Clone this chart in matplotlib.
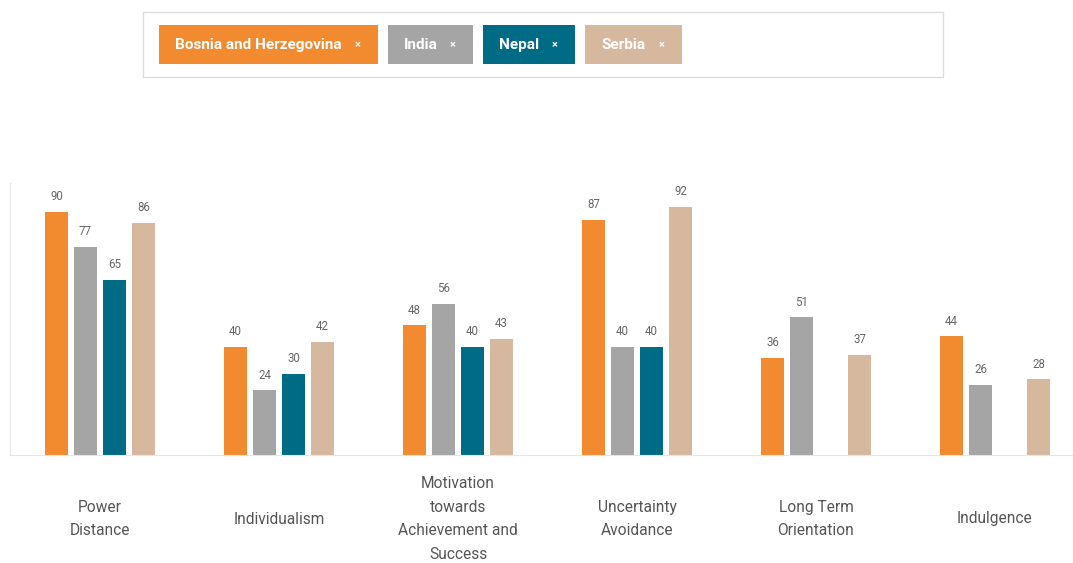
from matplotlib import pyplot as plt
from matplotlib.patches import Rectangle
import numpy as np

plt.rcParams['font.family'] = ['Roboto', 'DejaVu Sans']

categories = ["Power\nDistance", "Individualism",
              "Motivation\ntowards\nAchievement and\nSuccess",
              "Uncertainty\nAvoidance", "Long Term\nOrientation", "Indulgence"]
countries = ["Bosnia and Herzegovina", "India", "Nepal", "Serbia"]
colors = ["#F28A30", "#A5A5A5", "#006B84", "#D6B89E"]
bosnia = [90, 40, 48, 87, 36, 44]
india = [77, 24, 56, 40, 51, 26]
nepal = [65, 30, 40, 40, None, None]
serbia = [86, 42, 43, 92, 37, 28]
series = [bosnia, india, nepal, serbia]

W, H = 1073, 563
fig = plt.figure(figsize=(W / 100, H / 100), dpi=100)

def fx(px):
    return px / W

def fy(py):
    return 1 - py / H

# plot area: left edge x=10, baseline y=455, top y=183
ax = fig.add_axes([fx(10), fy(455), fx(1073 - 10), fy(183) - fy(455)])
x = np.arange(len(categories))
step = 29 / 179
width = 23 / 179
for i, (vals, col) in enumerate(zip(series, colors)):
    off = (i - 1.5) * step
    for j, v in enumerate(vals):
        if v is None:
            continue
        ax.bar(x[j] + off, v, width, color=col, zorder=2)
        ax.text(x[j] + off, v + 3.2, str(v), ha='center', va='bottom',
                fontsize=8.3, color='#666666')

ax.set_xlim((10 - 100) / 179, (1073 - 100) / 179)
ax.set_ylim(0, 272 / 2.7)
for s in ['top', 'right']:
    ax.spines[s].set_visible(False)
ax.spines['left'].set_color('#E6E6E6')
ax.spines['bottom'].set_color('#E6E6E6')
ax.set_yticks([])
ax.set_xticks(x)
ax.set_xticklabels([])
ax.tick_params(axis='x', length=0)

for j, c in enumerate(categories):
    fig.text(fx(100 + 179 * j), fy(519), c, ha='center', va='center',
             fontsize=11.2, color='#555555', linespacing=1.72)

# legend box
fig.patches.append(Rectangle((fx(143), fy(77)), fx(943 - 143), fy(12) - fy(77),
                             transform=fig.transFigure, facecolor='white',
                             edgecolor='#DDDDDD', linewidth=1))
buttons = [(159, 378), (388, 473), (483, 575), (585, 682)]
for (l, r), name, col in zip(buttons, countries, colors):
    fig.patches.append(Rectangle((fx(l), fy(64)), fx(r - l), fy(25) - fy(64),
                                 transform=fig.transFigure, facecolor=col,
                                 edgecolor='none'))
    fig.text(fx(l + 16), fy(45), name, ha='left', va='center', fontsize=11,
             fontweight='bold', color='white')
    fig.text(fx(r - 20), fy(45), "×", ha='center', va='center', fontsize=8,
             fontweight='bold', color='white')

fig.savefig("out.png", dpi=100, facecolor='white')
